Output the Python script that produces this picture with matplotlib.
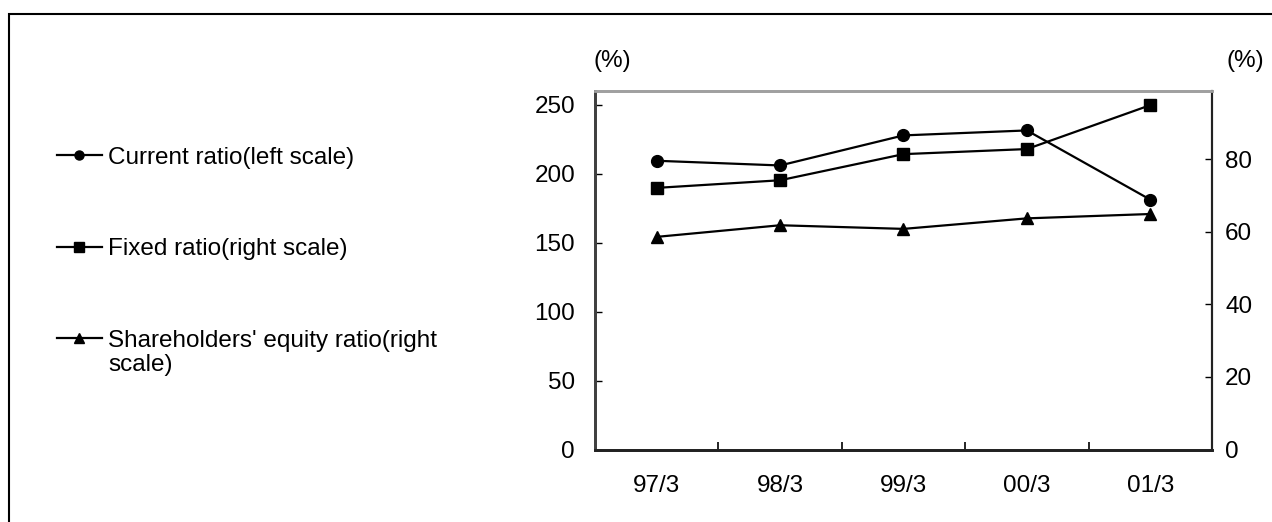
import matplotlib.pyplot as plt
from matplotlib.lines import Line2D
from matplotlib.patches import Rectangle

plt.rcParams['font.family'] = ['Liberation Sans', 'DejaVu Sans']

periods = ['97/3', '98/3', '99/3', '00/3', '01/3']
current_ratio = [209.4, 206.0, 227.8, 231.4, 181.2]       # left scale
fixed_ratio = [72.1, 74.2, 81.4, 82.8, 94.9]              # right scale
equity_ratio = [58.6, 61.8, 60.8, 63.7, 64.9]             # right scale

left_ticks = [0, 50, 100, 150, 200, 250]
right_ticks = [0, 20, 40, 60, 80]

labels = ['Current ratio(left scale)',
          'Fixed ratio(right scale)',
          "Shareholders' equity ratio(right\nscale)"]

FS = 17.5
W, H = 1272, 522

fig = plt.figure(figsize=(W / 100, H / 100), dpi=100)
ax = fig.add_axes([595 / W, 1 - 449.5 / H, (1212 - 595) / W, (449.5 - 91) / H])
ax2 = ax.twinx()

x = list(range(len(periods)))
ax.plot(x, current_ratio, color='black', lw=1.6, marker='o', ms=8.5, zorder=3)
ax2.plot(x, fixed_ratio, color='black', lw=1.6, marker='s', ms=8.5, zorder=3)
ax2.plot(x, equity_ratio, color='black', lw=1.6, marker='^', ms=9, zorder=3)

ax.set_xlim(-0.5, len(periods) - 0.5)
ax.set_ylim(0, 260)
ax2.set_ylim(0, 98.8)

ax.set_yticks(left_ticks)
ax.set_yticklabels([str(t) for t in left_ticks], fontsize=FS)
ax2.set_yticks(right_ticks)
ax2.set_yticklabels([str(t) for t in right_ticks], fontsize=FS)
ax.tick_params(axis='y', direction='in', length=5, width=1, pad=14.4, colors='black')
ax2.tick_params(axis='y', direction='in', length=5, width=1, pad=9.4, colors='black')

# category labels at centres, tick marks on the boundaries pointing inwards
ax.set_xticks(x)
ax.set_xticklabels(periods, fontsize=FS)
ax.tick_params(axis='x', length=0, pad=18.5)
ax.set_xticks([i + 0.5 for i in range(len(periods) - 1)], minor=True)
ax.tick_params(axis='x', which='minor', direction='in', length=6, width=1.2)

for a in (ax, ax2):
    a.spines['left'].set_color('#404040')
    a.spines['left'].set_linewidth(2)
    a.spines['top'].set_color('#a0a0a0')
    a.spines['top'].set_linewidth(2)
    a.spines['right'].set_color('#222222')
    a.spines['right'].set_linewidth(1.5)
    a.spines['bottom'].set_color('#222222')
    a.spines['bottom'].set_linewidth(2)

fig.text(612 / W, 1 - 61 / H, '(%)', fontsize=FS, ha='center', va='center')
fig.text(1245 / W, 1 - 61 / H, '(%)', fontsize=FS, ha='center', va='center')

# legend on the left side, drawn by hand to match the layout
markers = ['o', 's', '^']
legend_y = [155, 247, 338]
for m, lab, yy in zip(markers, labels, legend_y):
    yf = 1 - yy / H
    fig.add_artist(Line2D([57 / W, 102 / W], [yf, yf], color='black', lw=1.6,
                          transform=fig.transFigure))
    fig.add_artist(Line2D([79 / W], [yf], color='black', marker=m, ms=6.5,
                          transform=fig.transFigure))
    for k, part in enumerate(lab.split('\n')):
        fig.text(108 / W, yf - (8.5 + 25 * k) / H, part, fontsize=FS,
                 ha='left', va='baseline')

# outer chart border (only left and top edges are in view)
fig.add_artist(Rectangle((8.5 / W, -0.05), 1.2, 1 - 14 / H + 0.05, fill=False,
                         edgecolor='black', lw=1.5, transform=fig.transFigure))

fig.savefig('out.png', dpi=100)
